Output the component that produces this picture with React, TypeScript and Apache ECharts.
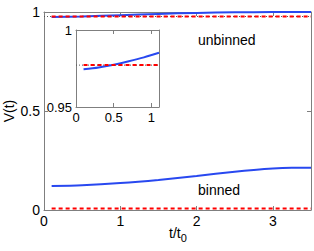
import React, { useEffect, useRef } from "react";
import * as echarts from "echarts";

const tUnbinned = [0.1, 0.5, 1.0, 1.5, 2.0, 2.5, 3.0, 3.5];
const vUnbinned = [0.9745, 0.9778, 0.9838, 0.9905, 0.9955, 0.9985, 0.9995, 0.9995];
const refUnbinned = 0.9772;

const tBinned = [0.1, 0.5, 1.0, 1.5, 2.0, 2.5, 2.75, 3.0, 3.25, 3.5];
const vBinned = [0.121, 0.125, 0.136, 0.152, 0.172, 0.193, 0.202, 0.209, 0.213, 0.214];
const refBinned = 0.008;

const tInset = [0.1, 0.3, 0.5, 0.7, 0.9, 1.1];
const vInset = [0.9745, 0.9757, 0.9775, 0.9797, 0.9822, 0.9852];

const mainXTicks = [0, 1, 2, 3];
const mainYTicks = [0, 0.5, 1];
const insetXTicks = [0, 0.5, 1];

const FONT = "Liberation Sans, Arial, sans-serif";
const AX = "#7f7f7f";

export default function App() {
  const ref = useRef<HTMLDivElement>(null);
  useEffect(() => {
    const chart = echarts.init(ref.current!, null, { renderer: "svg" });
    const pair = (xs: number[], ys: number[]) => xs.map((x, i) => [x, ys[i]]);
    const flat = (x0: number, x1: number, v: number) => [[x0, v], [x1, v]];
    const valueAxis = (
      gridIndex: number,
      min: number,
      max: number,
      interval: number,
      position: string,
      showLabels: boolean,
      fmt: (v: number) => string,
      fontSize: number
    ) => ({
      type: "value",
      gridIndex,
      min,
      max,
      interval,
      position,
      axisLine: { show: true, onZero: false, lineStyle: { color: AX, width: 1 } },
      axisTick: { show: true, inside: true, length: 4, lineStyle: { color: AX } },
      axisLabel: {
        show: showLabels,
        color: "#000",
        fontFamily: FONT,
        fontSize,
        margin: 4,
        formatter: fmt,
        showMaxLabel: true,
        showMinLabel: true,
      },
      splitLine: { show: false },
    });
    const fmtMainY = (v: number) => (mainYTicks.includes(v) ? String(v) : "");
    const fmtMainX = (v: number) => (mainXTicks.includes(v) ? String(v) : "");
    const fmtInX = (v: number) => (insetXTicks.includes(v) ? String(v) : "");
    const fmtInY = (v: number) => (Math.abs(v - 0.95) < 1e-9 ? "0.95" : Math.abs(v - 1) < 1e-9 ? "1" : "");
    const curve = { smooth: 0.3 };

    chart.setOption({
      animation: false,
      backgroundColor: "#fff",
      grid: [
        { left: 44, top: 12, width: 268, height: 198, show: false },
        { left: 76, top: 30, width: 83, height: 77, show: true, backgroundColor: "#fff", borderWidth: 0, z: 5 },
      ],
      xAxis: [
        valueAxis(0, 0, 3.5, 1, "bottom", true, fmtMainX, 14),
        valueAxis(0, 0, 3.5, 1, "top", false, fmtMainX, 14),
        { ...valueAxis(1, 0, 1.1, 0.5, "bottom", true, fmtInX, 13), z: 6 },
        { ...valueAxis(1, 0, 1.1, 0.5, "top", false, fmtInX, 13), z: 6 },
      ],
      yAxis: [
        valueAxis(0, 0, 1, 0.5, "left", true, fmtMainY, 14),
        valueAxis(0, 0, 1, 0.5, "right", false, fmtMainY, 14),
        { ...valueAxis(1, 0.95, 1, 0.05, "left", true, fmtInY, 13), z: 6 },
        { ...valueAxis(1, 0.95, 1, 0.05, "right", false, fmtInY, 13), z: 6 },
      ],
      series: [
        {
          type: "line", xAxisIndex: 0, yAxisIndex: 0, showSymbol: false, silent: true,
          data: flat(0, 3.5, refUnbinned),
          lineStyle: { color: "#555", width: 1, type: [1, 2] },
        },
        {
          type: "line", xAxisIndex: 0, yAxisIndex: 0, showSymbol: false, ...curve, silent: true,
          data: pair(tUnbinned, vUnbinned),
          lineStyle: { color: "#2848f0", width: 2 },
        },
        {
          type: "line", xAxisIndex: 0, yAxisIndex: 0, showSymbol: false, silent: true,
          data: flat(0.1, 3.5, refUnbinned),
          lineStyle: { color: "#ff0000", width: 2, type: [4, 3] },
        },
        {
          type: "line", xAxisIndex: 0, yAxisIndex: 0, showSymbol: false, ...curve, silent: true,
          data: pair(tBinned, vBinned),
          lineStyle: { color: "#2848f0", width: 2 },
        },
        {
          type: "line", xAxisIndex: 0, yAxisIndex: 0, showSymbol: false, silent: true,
          data: flat(0.1, 3.5, refBinned),
          lineStyle: { color: "#ff0000", width: 2, type: [4, 3] },
        },
        {
          type: "line", xAxisIndex: 2, yAxisIndex: 2, showSymbol: false, silent: true, z: 7,
          data: flat(0, 1.1, refUnbinned),
          lineStyle: { color: "#555", width: 1, type: [1, 2] },
        },
        {
          type: "line", xAxisIndex: 2, yAxisIndex: 2, showSymbol: false, ...curve, silent: true, z: 7,
          data: pair(tInset, vInset),
          lineStyle: { color: "#2848f0", width: 2 },
        },
        {
          type: "line", xAxisIndex: 2, yAxisIndex: 2, showSymbol: false, silent: true, z: 7,
          data: flat(0.1, 1.1, refUnbinned),
          lineStyle: { color: "#ff0000", width: 2, type: [4, 3] },
        },
      ],
      graphic: [
        {
          type: "text", left: 198, top: 33, z: 10,
          style: { text: "unbinned", fontFamily: FONT, fontSize: 14, fill: "#000" },
        },
        {
          type: "text", left: 198, top: 183, z: 10,
          style: { text: "binned", fontFamily: FONT, fontSize: 14, fill: "#000" },
        },
        {
          type: "text", x: 9, y: 111, rotation: Math.PI / 2, z: 10,
          style: { text: "V(t)", fontFamily: FONT, fontSize: 14, fill: "#000", align: "center", verticalAlign: "middle" },
        },
        {
          type: "text", left: 169, top: 226, z: 10,
          style: {
            text: "{a|t/t}{b|0}",
            fontFamily: FONT,
            rich: {
              a: { fontFamily: FONT, fontSize: 14, fill: "#000", color: "#000" },
              b: { fontFamily: FONT, fontSize: 11, color: "#000", padding: [10, 0, 0, 0] },
            },
          },
        },
      ],
    });
    return () => chart.dispose();
  }, []);
  return <div ref={ref} style={{ width: 314, height: 251, position: "absolute", left: 0, top: 0 }} />;
}
